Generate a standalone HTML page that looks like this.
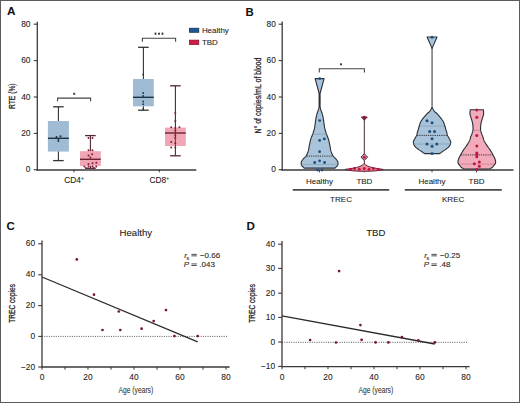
<!DOCTYPE html>
<html><head><meta charset="utf-8"><style>
html,body{margin:0;padding:0;background:#fff;}
body{width:520px;height:403px;overflow:hidden;}
svg{display:block;font-family:"Liberation Sans", sans-serif;}
</style></head><body>
<svg width="520" height="403" viewBox="0 0 520 403">
<rect x="0" y="0" width="520" height="403" fill="#fff"/>
<text x="6.9" y="15.3" font-size="11.8" text-anchor="start" font-weight="bold" fill="#111" >A</text>
<text x="245.6" y="15.6" font-size="11.4" text-anchor="start" font-weight="bold" fill="#111" >B</text>
<text x="6.6" y="230.1" font-size="11.4" text-anchor="start" font-weight="bold" fill="#111" >C</text>
<text x="246.6" y="230.1" font-size="11.6" text-anchor="start" font-weight="bold" fill="#111" >D</text>
<line x1="37.3" y1="21.7" x2="37.3" y2="170.6" stroke="#3a3a3a" stroke-width="1.3" />
<line x1="36.6" y1="169.9" x2="196.3" y2="169.9" stroke="#3a3a3a" stroke-width="1.5" />
<line x1="33.8" y1="24.2" x2="37.3" y2="24.2" stroke="#3a3a3a" stroke-width="1.1" />
<text x="30.5" y="26.8" font-size="8.4" text-anchor="end" font-weight="normal" fill="#222" stroke="#222" stroke-width="0.08" >80</text>
<line x1="33.8" y1="60.6" x2="37.3" y2="60.6" stroke="#3a3a3a" stroke-width="1.1" />
<text x="30.5" y="63.2" font-size="8.4" text-anchor="end" font-weight="normal" fill="#222" stroke="#222" stroke-width="0.08" >60</text>
<line x1="33.8" y1="97.0" x2="37.3" y2="97.0" stroke="#3a3a3a" stroke-width="1.1" />
<text x="30.5" y="99.6" font-size="8.4" text-anchor="end" font-weight="normal" fill="#222" stroke="#222" stroke-width="0.08" >40</text>
<line x1="33.8" y1="133.4" x2="37.3" y2="133.4" stroke="#3a3a3a" stroke-width="1.1" />
<text x="30.5" y="136.0" font-size="8.4" text-anchor="end" font-weight="normal" fill="#222" stroke="#222" stroke-width="0.08" >20</text>
<line x1="33.8" y1="169.7" x2="37.3" y2="169.7" stroke="#3a3a3a" stroke-width="1.1" />
<text x="30.5" y="172.29999999999998" font-size="8.4" text-anchor="end" font-weight="normal" fill="#222" stroke="#222" stroke-width="0.08" >0</text>
<line x1="74" y1="169.7" x2="74" y2="172.3" stroke="#3a3a3a" stroke-width="1.0" />
<line x1="159.3" y1="169.7" x2="159.3" y2="172.3" stroke="#3a3a3a" stroke-width="1.0" />
<text x="74" y="183.2" font-size="8.4" text-anchor="middle" font-weight="normal" fill="#222" stroke="#222" stroke-width="0.08" >CD4<tspan dy="-3" font-size="5">+</tspan></text>
<text x="159.3" y="183.2" font-size="8.4" text-anchor="middle" font-weight="normal" fill="#222" stroke="#222" stroke-width="0.08" >CD8<tspan dy="-3" font-size="5">+</tspan></text>
<text transform="translate(15.4,96.2) rotate(-90)" font-size="8.8" text-anchor="middle" fill="#222" stroke="#222" stroke-width="0.25" textLength="25.6" lengthAdjust="spacingAndGlyphs">RTE (%)</text>
<line x1="58.4" y1="106.8" x2="58.4" y2="160.6" stroke="#333" stroke-width="1.1" />
<line x1="53.1" y1="106.8" x2="63.699999999999996" y2="106.8" stroke="#333" stroke-width="1.3" />
<line x1="53.1" y1="160.6" x2="63.699999999999996" y2="160.6" stroke="#333" stroke-width="1.3" />
<rect x="47.9" y="121" width="21" height="30.599999999999994" fill="#a0bcd4"/>
<line x1="47.9" y1="138.3" x2="68.9" y2="138.3" stroke="#1f3344" stroke-width="1.4" />
<line x1="90.4" y1="135.6" x2="90.4" y2="168.3" stroke="#4a2a33" stroke-width="1.1" />
<line x1="85.10000000000001" y1="135.6" x2="95.7" y2="135.6" stroke="#4a2a33" stroke-width="1.3" />
<line x1="85.10000000000001" y1="168.3" x2="95.7" y2="168.3" stroke="#4a2a33" stroke-width="1.3" />
<rect x="80.0" y="151.2" width="20.8" height="14.800000000000011" fill="#efa6b5"/>
<line x1="80.0" y1="159.3" x2="100.80000000000001" y2="159.3" stroke="#6e2232" stroke-width="1.4" />
<line x1="143.4" y1="47.3" x2="143.4" y2="110.2" stroke="#333" stroke-width="1.1" />
<line x1="138.1" y1="47.3" x2="148.70000000000002" y2="47.3" stroke="#333" stroke-width="1.3" />
<line x1="138.1" y1="110.2" x2="148.70000000000002" y2="110.2" stroke="#333" stroke-width="1.3" />
<rect x="133.0" y="79" width="20.8" height="27.299999999999997" fill="#a0bcd4"/>
<line x1="133.0" y1="97.3" x2="153.8" y2="97.3" stroke="#1f3344" stroke-width="1.4" />
<line x1="175.4" y1="85.8" x2="175.4" y2="155.8" stroke="#4a2a33" stroke-width="1.1" />
<line x1="170.1" y1="85.8" x2="180.70000000000002" y2="85.8" stroke="#4a2a33" stroke-width="1.3" />
<line x1="170.1" y1="155.8" x2="180.70000000000002" y2="155.8" stroke="#4a2a33" stroke-width="1.3" />
<rect x="165.0" y="127.6" width="20.8" height="18.400000000000006" fill="#efa6b5"/>
<line x1="165.0" y1="133" x2="185.8" y2="133" stroke="#6e2232" stroke-width="1.4" />
<line x1="175.4" y1="127.6" x2="175.4" y2="146" stroke="#6e2232" stroke-width="0.9" />
<circle cx="56.5" cy="137.1" r="1.0" fill="#1f3344"/>
<circle cx="60.5" cy="136.3" r="1.0" fill="#1f3344"/>
<circle cx="58.4" cy="141" r="1.0" fill="#1f3344"/>
<circle cx="58.4" cy="139" r="1.0" fill="#1f3344"/>
<circle cx="88.5" cy="138.1" r="1.0" fill="#8a1a35"/>
<circle cx="92.5" cy="138.1" r="1.0" fill="#8a1a35"/>
<circle cx="88.5" cy="150.3" r="1.0" fill="#8a1a35"/>
<circle cx="92.5" cy="150.3" r="1.0" fill="#8a1a35"/>
<circle cx="92.1" cy="154.2" r="1.0" fill="#8a1a35"/>
<circle cx="88.5" cy="155.5" r="1.0" fill="#8a1a35"/>
<circle cx="90.4" cy="157.6" r="1.0" fill="#8a1a35"/>
<circle cx="88.5" cy="163.9" r="1.0" fill="#8a1a35"/>
<circle cx="92.5" cy="163.3" r="1.0" fill="#8a1a35"/>
<circle cx="96.3" cy="162.8" r="1.0" fill="#8a1a35"/>
<circle cx="84.3" cy="166.5" r="1.0" fill="#8a1a35"/>
<circle cx="88.5" cy="166.5" r="1.0" fill="#8a1a35"/>
<circle cx="92.5" cy="166.5" r="1.0" fill="#8a1a35"/>
<circle cx="96.3" cy="166.5" r="1.0" fill="#8a1a35"/>
<circle cx="86" cy="168" r="1.0" fill="#8a1a35"/>
<circle cx="94" cy="168" r="1.0" fill="#8a1a35"/>
<circle cx="143.2" cy="74.5" r="0.9" fill="#1f3344"/>
<circle cx="143.2" cy="93" r="0.9" fill="#1f3344"/>
<circle cx="143.2" cy="96" r="0.9" fill="#1f3344"/>
<circle cx="143.2" cy="101.5" r="0.9" fill="#1f3344"/>
<circle cx="143.2" cy="104.2" r="0.9" fill="#1f3344"/>
<circle cx="143.2" cy="108.9" r="0.9" fill="#1f3344"/>
<circle cx="175.3" cy="128" r="1.0" fill="#8a1a35"/>
<circle cx="171.2" cy="127.3" r="1.0" fill="#8a1a35"/>
<circle cx="179.4" cy="127.3" r="1.0" fill="#8a1a35"/>
<circle cx="175.3" cy="130.5" r="1.0" fill="#8a1a35"/>
<circle cx="175.3" cy="135.4" r="1.0" fill="#8a1a35"/>
<circle cx="175.3" cy="138" r="1.0" fill="#8a1a35"/>
<circle cx="175.3" cy="143.3" r="1.0" fill="#8a1a35"/>
<circle cx="171.2" cy="142" r="1.0" fill="#8a1a35"/>
<circle cx="171.2" cy="147.4" r="1.0" fill="#8a1a35"/>
<circle cx="175.3" cy="147.4" r="1.0" fill="#8a1a35"/>
<circle cx="175.3" cy="121" r="1.0" fill="#8a1a35"/>
<circle cx="175.3" cy="113" r="1.0" fill="#8a1a35"/>
<polyline points="57.6,101.2 57.6,98.1 90.6,98.1 90.6,101.2" fill="none" stroke="#444" stroke-width="1.1"/>
<path d="M74.20,92.65 L74.20,94.95 M75.20,93.22 L73.20,94.38 M75.20,94.38 L73.20,93.22 " stroke="#222" stroke-width="0.75" fill="none"/>
<polyline points="142.4,41.8 142.4,38.2 175.6,38.2 175.6,41.8" fill="none" stroke="#444" stroke-width="1.1"/>
<path d="M155.50,32.55 L155.50,34.85 M156.50,33.12 L154.50,34.28 M156.50,34.28 L154.50,33.12 " stroke="#222" stroke-width="0.75" fill="none"/>
<path d="M159.00,32.55 L159.00,34.85 M160.00,33.12 L158.00,34.28 M160.00,34.28 L158.00,33.12 " stroke="#222" stroke-width="0.75" fill="none"/>
<path d="M162.50,32.55 L162.50,34.85 M163.50,33.12 L161.50,34.28 M163.50,34.28 L161.50,33.12 " stroke="#222" stroke-width="0.75" fill="none"/>
<rect x="189.4" y="28.2" width="9.4" height="4.1" fill="#1f5890" stroke="#0c2a4a" stroke-width="0.7"/>
<rect x="189.4" y="40.1" width="9.4" height="4.5" fill="#d01c42" stroke="#80102a" stroke-width="0.7"/>
<text x="201.9" y="32.7" font-size="7.95" text-anchor="start" font-weight="normal" fill="#222" stroke="#222" stroke-width="0.08" >Healthy</text>
<text x="201.9" y="44.6" font-size="7.95" text-anchor="start" font-weight="normal" fill="#222" stroke="#222" stroke-width="0.08" >TBD</text>
<line x1="282.2" y1="21.4" x2="282.2" y2="170.6" stroke="#3a3a3a" stroke-width="1.3" />
<line x1="281.5" y1="169.9" x2="513.5" y2="169.9" stroke="#3a3a3a" stroke-width="1.5" />
<line x1="278.7" y1="24.2" x2="282.2" y2="24.2" stroke="#3a3a3a" stroke-width="1.1" />
<text x="275.9" y="26.8" font-size="8.4" text-anchor="end" font-weight="normal" fill="#222" stroke="#222" stroke-width="0.08" >80</text>
<line x1="278.7" y1="60.6" x2="282.2" y2="60.6" stroke="#3a3a3a" stroke-width="1.1" />
<text x="275.9" y="63.2" font-size="8.4" text-anchor="end" font-weight="normal" fill="#222" stroke="#222" stroke-width="0.08" >60</text>
<line x1="278.7" y1="97.0" x2="282.2" y2="97.0" stroke="#3a3a3a" stroke-width="1.1" />
<text x="275.9" y="99.6" font-size="8.4" text-anchor="end" font-weight="normal" fill="#222" stroke="#222" stroke-width="0.08" >40</text>
<line x1="278.7" y1="133.4" x2="282.2" y2="133.4" stroke="#3a3a3a" stroke-width="1.1" />
<text x="275.9" y="136.0" font-size="8.4" text-anchor="end" font-weight="normal" fill="#222" stroke="#222" stroke-width="0.08" >20</text>
<line x1="278.7" y1="169.7" x2="282.2" y2="169.7" stroke="#3a3a3a" stroke-width="1.1" />
<text x="275.9" y="172.29999999999998" font-size="8.4" text-anchor="end" font-weight="normal" fill="#222" stroke="#222" stroke-width="0.08" >0</text>
<line x1="319.5" y1="169.8" x2="319.5" y2="172.3" stroke="#3a3a3a" stroke-width="1.0" />
<line x1="364.4" y1="169.8" x2="364.4" y2="172.3" stroke="#3a3a3a" stroke-width="1.0" />
<line x1="432" y1="169.8" x2="432" y2="172.3" stroke="#3a3a3a" stroke-width="1.0" />
<line x1="476.5" y1="169.8" x2="476.5" y2="172.3" stroke="#3a3a3a" stroke-width="1.0" />
<text x="319.5" y="183.5" font-size="8.0" text-anchor="middle" font-weight="normal" fill="#222" stroke="#222" stroke-width="0.08" >Healthy</text>
<text x="364.4" y="183.5" font-size="8.0" text-anchor="middle" font-weight="normal" fill="#222" stroke="#222" stroke-width="0.08" >TBD</text>
<text x="432" y="183.5" font-size="8.0" text-anchor="middle" font-weight="normal" fill="#222" stroke="#222" stroke-width="0.08" >Healthy</text>
<text x="476.5" y="183.5" font-size="8.0" text-anchor="middle" font-weight="normal" fill="#222" stroke="#222" stroke-width="0.08" >TBD</text>
<line x1="292.7" y1="189.9" x2="389.2" y2="189.9" stroke="#4a4a4a" stroke-width="1.6" />
<line x1="404.8" y1="189.9" x2="501.8" y2="189.9" stroke="#4a4a4a" stroke-width="1.6" />
<text x="341" y="201.7" font-size="8.1" text-anchor="middle" font-weight="normal" fill="#222" stroke="#222" stroke-width="0.08" >TREC</text>
<text x="453.2" y="201.7" font-size="8.1" text-anchor="middle" font-weight="normal" fill="#222" stroke="#222" stroke-width="0.08" >KREC</text>
<text transform="translate(260.8,95.6) rotate(-90)" font-size="8.8" text-anchor="middle" fill="#222" stroke="#222" stroke-width="0.25" textLength="76" lengthAdjust="spacingAndGlyphs">N° of copies/mL of blood</text>
<polyline points="319.3,72.6 319.3,68.7 364.4,68.7 364.4,72.6" fill="none" stroke="#444" stroke-width="1.1"/>
<path d="M341.00,63.15 L341.00,65.45 M342.00,63.72 L340.00,64.88 M342.00,64.88 L340.00,63.72 " stroke="#222" stroke-width="0.75" fill="none"/>
<path d="M315.15,78.60 L319.15,93.50 L319.10,103.00 L319.15,103.50 L319.15,104.00 L319.16,104.50 L319.16,105.00 L319.16,105.50 L319.14,106.00 L319.10,106.50 L319.04,107.00 L318.96,107.50 L318.87,108.00 L318.76,108.50 L318.64,109.00 L318.50,109.50 L318.33,110.05 L318.14,110.60 L317.93,111.15 L317.71,111.70 L317.50,112.25 L317.30,112.80 L317.16,113.30 L317.01,113.80 L316.87,114.30 L316.73,114.80 L316.59,115.30 L316.46,115.80 L316.33,116.30 L316.20,116.80 L316.12,117.30 L316.04,117.80 L315.96,118.30 L315.88,118.80 L315.80,119.30 L315.73,119.80 L315.65,120.30 L315.58,120.80 L315.51,121.30 L315.44,121.80 L315.37,122.30 L315.30,122.80 L315.22,123.30 L315.15,123.80 L315.08,124.30 L315.02,124.80 L314.95,125.30 L314.88,125.80 L314.82,126.30 L314.75,126.80 L314.68,127.30 L314.60,127.80 L314.46,128.33 L314.32,128.87 L314.18,129.40 L314.02,129.93 L313.86,130.47 L313.70,131.00 L313.54,131.53 L313.38,132.07 L313.21,132.60 L313.03,133.13 L312.83,133.67 L312.60,134.20 L312.44,134.72 L312.26,135.24 L312.07,135.76 L311.87,136.28 L311.67,136.80 L311.46,137.32 L311.26,137.84 L311.06,138.36 L310.87,138.88 L310.70,139.40 L310.56,139.92 L310.43,140.43 L310.31,140.95 L310.18,141.47 L310.06,141.98 L309.94,142.50 L309.83,143.02 L309.72,143.53 L309.61,144.05 L309.50,144.57 L309.40,145.08 L309.30,145.60 L309.19,146.13 L309.09,146.66 L309.01,147.19 L308.93,147.72 L308.85,148.25 L308.77,148.78 L308.68,149.31 L308.57,149.84 L308.45,150.37 L308.30,150.90 L308.13,151.42 L307.95,151.94 L307.75,152.46 L307.54,152.98 L307.33,153.50 L307.10,154.02 L306.86,154.54 L306.61,155.06 L306.36,155.58 L306.10,156.10 L305.63,156.62 L305.11,157.13 L304.58,157.65 L304.04,158.17 L303.54,158.68 L303.10,159.20 L302.71,159.72 L302.33,160.23 L301.99,160.75 L301.70,161.27 L301.46,161.78 L301.30,162.30 L301.20,162.83 L301.16,163.37 L301.18,163.90 L301.25,164.43 L301.39,164.97 L301.60,165.50 L302.01,166.02 L302.60,166.54 L303.24,167.06 L303.81,167.58 L304.20,168.10 L335.00,168.10 L335.39,167.58 L335.96,167.06 L336.60,166.54 L337.19,166.02 L337.60,165.50 L337.81,164.97 L337.95,164.43 L338.03,163.90 L338.04,163.37 L338.00,162.83 L337.90,162.30 L337.74,161.78 L337.50,161.27 L337.21,160.75 L336.87,160.23 L336.49,159.72 L336.10,159.20 L335.66,158.68 L335.16,158.17 L334.62,157.65 L334.09,157.13 L333.57,156.62 L333.10,156.10 L332.84,155.58 L332.59,155.06 L332.34,154.54 L332.10,154.02 L331.88,153.50 L331.66,152.98 L331.45,152.46 L331.25,151.94 L331.07,151.42 L330.90,150.90 L330.75,150.37 L330.63,149.84 L330.52,149.31 L330.43,148.78 L330.35,148.25 L330.27,147.72 L330.19,147.19 L330.11,146.66 L330.01,146.13 L329.90,145.60 L329.80,145.08 L329.70,144.57 L329.59,144.05 L329.48,143.53 L329.37,143.02 L329.26,142.50 L329.14,141.98 L329.02,141.47 L328.89,140.95 L328.77,140.43 L328.64,139.92 L328.50,139.40 L328.33,138.88 L328.14,138.36 L327.94,137.84 L327.74,137.32 L327.53,136.80 L327.33,136.28 L327.13,135.76 L326.94,135.24 L326.76,134.72 L326.60,134.20 L326.37,133.67 L326.17,133.13 L325.99,132.60 L325.82,132.07 L325.66,131.53 L325.50,131.00 L325.34,130.47 L325.18,129.93 L325.03,129.40 L324.88,128.87 L324.74,128.33 L324.60,127.80 L324.52,127.30 L324.45,126.80 L324.38,126.30 L324.32,125.80 L324.25,125.30 L324.18,124.80 L324.12,124.30 L324.05,123.80 L323.98,123.30 L323.90,122.80 L323.83,122.30 L323.76,121.80 L323.69,121.30 L323.62,120.80 L323.55,120.30 L323.48,119.80 L323.40,119.30 L323.32,118.80 L323.24,118.30 L323.16,117.80 L323.08,117.30 L323.00,116.80 L322.87,116.30 L322.74,115.80 L322.61,115.30 L322.47,114.80 L322.33,114.30 L322.19,113.80 L322.04,113.30 L321.90,112.80 L321.70,112.25 L321.49,111.70 L321.27,111.15 L321.06,110.60 L320.87,110.05 L320.70,109.50 L320.56,109.00 L320.44,108.50 L320.33,108.00 L320.24,107.50 L320.16,107.00 L320.10,106.50 L320.06,106.00 L320.04,105.50 L320.04,105.00 L320.04,104.50 L320.05,104.00 L320.05,103.50 L320.10,103.00 L320.05,93.50 L324.05,78.60 Z" fill="#a9c4da" stroke="none"/>
<line x1="312.6" y1="134.2" x2="326.6" y2="134.2" stroke="#7f9db5" stroke-width="0.7" />
<line x1="301.24704861111115" y1="164.4" x2="337.9529513888889" y2="164.4" stroke="#7f9db5" stroke-width="0.7" />
<line x1="306.6" y1="156.1" x2="332.6" y2="156.1" stroke="#222" stroke-width="0.9" stroke-dasharray="1.2,1"/>
<path d="M315.15,78.60 L319.15,93.50 L319.10,103.00 L319.15,103.50 L319.15,104.00 L319.16,104.50 L319.16,105.00 L319.16,105.50 L319.14,106.00 L319.10,106.50 L319.04,107.00 L318.96,107.50 L318.87,108.00 L318.76,108.50 L318.64,109.00 L318.50,109.50 L318.33,110.05 L318.14,110.60 L317.93,111.15 L317.71,111.70 L317.50,112.25 L317.30,112.80 L317.16,113.30 L317.01,113.80 L316.87,114.30 L316.73,114.80 L316.59,115.30 L316.46,115.80 L316.33,116.30 L316.20,116.80 L316.12,117.30 L316.04,117.80 L315.96,118.30 L315.88,118.80 L315.80,119.30 L315.73,119.80 L315.65,120.30 L315.58,120.80 L315.51,121.30 L315.44,121.80 L315.37,122.30 L315.30,122.80 L315.22,123.30 L315.15,123.80 L315.08,124.30 L315.02,124.80 L314.95,125.30 L314.88,125.80 L314.82,126.30 L314.75,126.80 L314.68,127.30 L314.60,127.80 L314.46,128.33 L314.32,128.87 L314.18,129.40 L314.02,129.93 L313.86,130.47 L313.70,131.00 L313.54,131.53 L313.38,132.07 L313.21,132.60 L313.03,133.13 L312.83,133.67 L312.60,134.20 L312.44,134.72 L312.26,135.24 L312.07,135.76 L311.87,136.28 L311.67,136.80 L311.46,137.32 L311.26,137.84 L311.06,138.36 L310.87,138.88 L310.70,139.40 L310.56,139.92 L310.43,140.43 L310.31,140.95 L310.18,141.47 L310.06,141.98 L309.94,142.50 L309.83,143.02 L309.72,143.53 L309.61,144.05 L309.50,144.57 L309.40,145.08 L309.30,145.60 L309.19,146.13 L309.09,146.66 L309.01,147.19 L308.93,147.72 L308.85,148.25 L308.77,148.78 L308.68,149.31 L308.57,149.84 L308.45,150.37 L308.30,150.90 L308.13,151.42 L307.95,151.94 L307.75,152.46 L307.54,152.98 L307.33,153.50 L307.10,154.02 L306.86,154.54 L306.61,155.06 L306.36,155.58 L306.10,156.10 L305.63,156.62 L305.11,157.13 L304.58,157.65 L304.04,158.17 L303.54,158.68 L303.10,159.20 L302.71,159.72 L302.33,160.23 L301.99,160.75 L301.70,161.27 L301.46,161.78 L301.30,162.30 L301.20,162.83 L301.16,163.37 L301.18,163.90 L301.25,164.43 L301.39,164.97 L301.60,165.50 L302.01,166.02 L302.60,166.54 L303.24,167.06 L303.81,167.58 L304.20,168.10 L335.00,168.10 L335.39,167.58 L335.96,167.06 L336.60,166.54 L337.19,166.02 L337.60,165.50 L337.81,164.97 L337.95,164.43 L338.03,163.90 L338.04,163.37 L338.00,162.83 L337.90,162.30 L337.74,161.78 L337.50,161.27 L337.21,160.75 L336.87,160.23 L336.49,159.72 L336.10,159.20 L335.66,158.68 L335.16,158.17 L334.62,157.65 L334.09,157.13 L333.57,156.62 L333.10,156.10 L332.84,155.58 L332.59,155.06 L332.34,154.54 L332.10,154.02 L331.88,153.50 L331.66,152.98 L331.45,152.46 L331.25,151.94 L331.07,151.42 L330.90,150.90 L330.75,150.37 L330.63,149.84 L330.52,149.31 L330.43,148.78 L330.35,148.25 L330.27,147.72 L330.19,147.19 L330.11,146.66 L330.01,146.13 L329.90,145.60 L329.80,145.08 L329.70,144.57 L329.59,144.05 L329.48,143.53 L329.37,143.02 L329.26,142.50 L329.14,141.98 L329.02,141.47 L328.89,140.95 L328.77,140.43 L328.64,139.92 L328.50,139.40 L328.33,138.88 L328.14,138.36 L327.94,137.84 L327.74,137.32 L327.53,136.80 L327.33,136.28 L327.13,135.76 L326.94,135.24 L326.76,134.72 L326.60,134.20 L326.37,133.67 L326.17,133.13 L325.99,132.60 L325.82,132.07 L325.66,131.53 L325.50,131.00 L325.34,130.47 L325.18,129.93 L325.03,129.40 L324.88,128.87 L324.74,128.33 L324.60,127.80 L324.52,127.30 L324.45,126.80 L324.38,126.30 L324.32,125.80 L324.25,125.30 L324.18,124.80 L324.12,124.30 L324.05,123.80 L323.98,123.30 L323.90,122.80 L323.83,122.30 L323.76,121.80 L323.69,121.30 L323.62,120.80 L323.55,120.30 L323.48,119.80 L323.40,119.30 L323.32,118.80 L323.24,118.30 L323.16,117.80 L323.08,117.30 L323.00,116.80 L322.87,116.30 L322.74,115.80 L322.61,115.30 L322.47,114.80 L322.33,114.30 L322.19,113.80 L322.04,113.30 L321.90,112.80 L321.70,112.25 L321.49,111.70 L321.27,111.15 L321.06,110.60 L320.87,110.05 L320.70,109.50 L320.56,109.00 L320.44,108.50 L320.33,108.00 L320.24,107.50 L320.16,107.00 L320.10,106.50 L320.06,106.00 L320.04,105.50 L320.04,105.00 L320.04,104.50 L320.05,104.00 L320.05,103.50 L320.10,103.00 L320.05,93.50 L324.05,78.60 Z" fill="none" stroke="#2a2f35" stroke-width="1.1" stroke-linejoin="round"/>
<circle cx="319.7" cy="78.6" r="1.4" fill="#1f4f7e"/>
<circle cx="319.7" cy="120.6" r="1.4" fill="#1f4f7e"/>
<circle cx="319.6" cy="140.4" r="1.4" fill="#1f4f7e"/>
<circle cx="324.3" cy="138.9" r="1.4" fill="#1f4f7e"/>
<circle cx="319.6" cy="151.7" r="1.4" fill="#1f4f7e"/>
<circle cx="314.7" cy="162.5" r="1.4" fill="#1f4f7e"/>
<circle cx="319.6" cy="160.8" r="1.4" fill="#1f4f7e"/>
<circle cx="324.6" cy="162.5" r="1.4" fill="#1f4f7e"/>
<circle cx="317.5" cy="170" r="1.4" fill="#1f4f7e"/>
<circle cx="322" cy="170" r="1.4" fill="#1f4f7e"/>
<line x1="364.3" y1="117.2" x2="364.3" y2="164" stroke="#4a2a33" stroke-width="1.0" />
<path d="M361.3,117.0 L367.3,117.0 L364.3,120.2 Z" fill="#9a1a3a" stroke="#5a2030" stroke-width="0.9" stroke-linejoin="round"/>
<path d="M364.3,153.8 L367.7,157.2 L364.3,160.4 L360.9,157.2 Z" fill="#efa6b5" stroke="#2a2f35" stroke-width="1" stroke-linejoin="round"/>
<path d="M345.1,169.4 C353,168.2 361,167.6 364.2,163.4 C367.5,167.6 375.5,168.2 383.2,169.4 C378,171.9 351,171.9 345.1,169.4 Z" fill="#eb8ea2" stroke="#5a2030" stroke-width="1" stroke-linejoin="round"/>
<circle cx="364.3" cy="117.2" r="1.4" fill="#8a1535"/>
<circle cx="364.3" cy="157.2" r="1.5" fill="#c0163f"/>
<circle cx="350.4" cy="169.2" r="1.5" fill="#c0163f"/>
<circle cx="354.4" cy="168.6" r="1.5" fill="#c0163f"/>
<circle cx="359.3" cy="169.2" r="1.5" fill="#c0163f"/>
<circle cx="364.2" cy="168.4" r="1.5" fill="#c0163f"/>
<circle cx="369" cy="169.2" r="1.5" fill="#c0163f"/>
<circle cx="373.4" cy="168.6" r="1.5" fill="#c0163f"/>
<circle cx="378.3" cy="169.2" r="1.5" fill="#c0163f"/>
<line x1="432.06" y1="48" x2="432.06" y2="109" stroke="#2a2f35" stroke-width="1.0" />
<path d="M427.1,37 L437,37 L432.06,48.4 Z" fill="#a9c4da" stroke="#2a2f35" stroke-width="1.1" stroke-linejoin="round"/>
<path d="M431.56,107.80 L431.39,108.37 L431.17,108.93 L430.90,109.50 L430.59,110.07 L430.24,110.63 L429.86,111.20 L429.34,111.72 L428.75,112.24 L428.12,112.76 L427.48,113.28 L426.86,113.80 L426.43,114.30 L426.00,114.80 L425.57,115.30 L425.15,115.80 L424.72,116.30 L424.29,116.80 L423.86,117.30 L423.48,117.84 L423.08,118.38 L422.67,118.91 L422.27,119.45 L421.88,119.99 L421.51,120.52 L421.17,121.06 L420.86,121.60 L420.59,122.15 L420.35,122.70 L420.14,123.25 L419.94,123.80 L419.76,124.35 L419.59,124.90 L419.43,125.45 L419.26,126.00 L419.10,126.50 L418.94,127.00 L418.80,127.50 L418.66,128.00 L418.53,128.50 L418.40,129.00 L418.28,129.50 L418.16,130.00 L417.94,130.57 L417.74,131.15 L417.55,131.73 L417.36,132.30 L417.24,132.82 L417.14,133.33 L417.04,133.85 L416.92,134.37 L416.76,134.88 L416.56,135.40 L416.33,135.94 L416.05,136.49 L415.74,137.03 L415.42,137.57 L415.11,138.11 L414.81,138.66 L414.56,139.20 L414.28,139.72 L414.00,140.23 L413.75,140.75 L413.54,141.27 L413.40,141.78 L413.36,142.30 L413.40,142.86 L413.50,143.41 L413.65,143.97 L413.85,144.53 L414.10,145.09 L414.41,145.64 L414.76,146.20 L415.26,146.77 L415.86,147.33 L416.52,147.90 L417.23,148.47 L417.95,149.03 L418.66,149.60 L419.40,150.12 L420.20,150.63 L421.01,151.15 L421.79,151.67 L422.49,152.18 L423.06,152.70 L424.08,153.15 L424.56,153.60 L439.56,153.60 L440.04,153.15 L441.06,152.70 L441.63,152.18 L442.33,151.67 L443.11,151.15 L443.92,150.63 L444.72,150.12 L445.46,149.60 L446.17,149.03 L446.89,148.47 L447.60,147.90 L448.26,147.33 L448.86,146.77 L449.36,146.20 L449.71,145.64 L450.02,145.09 L450.27,144.53 L450.47,143.97 L450.62,143.41 L450.72,142.86 L450.76,142.30 L450.72,141.78 L450.58,141.27 L450.37,140.75 L450.12,140.23 L449.84,139.72 L449.56,139.20 L449.31,138.66 L449.01,138.11 L448.70,137.57 L448.38,137.03 L448.07,136.49 L447.79,135.94 L447.56,135.40 L447.36,134.88 L447.20,134.37 L447.08,133.85 L446.98,133.33 L446.88,132.82 L446.76,132.30 L446.57,131.73 L446.38,131.15 L446.18,130.57 L445.96,130.00 L445.84,129.50 L445.72,129.00 L445.59,128.50 L445.46,128.00 L445.32,127.50 L445.18,127.00 L445.02,126.50 L444.86,126.00 L444.69,125.45 L444.53,124.90 L444.36,124.35 L444.18,123.80 L443.98,123.25 L443.77,122.70 L443.53,122.15 L443.26,121.60 L442.95,121.06 L442.61,120.52 L442.24,119.99 L441.85,119.45 L441.45,118.91 L441.04,118.38 L440.64,117.84 L440.26,117.30 L439.83,116.80 L439.40,116.30 L438.97,115.80 L438.55,115.30 L438.12,114.80 L437.69,114.30 L437.26,113.80 L436.64,113.28 L436.00,112.76 L435.37,112.24 L434.78,111.72 L434.26,111.20 L433.88,110.63 L433.53,110.07 L433.22,109.50 L432.95,108.93 L432.73,108.37 L432.56,107.80 Z" fill="#a9c4da" stroke="none"/>
<line x1="419.26" y1="126" x2="444.86" y2="126" stroke="#7f9db5" stroke-width="0.7" />
<line x1="413.6572265829409" y1="144" x2="450.4627734170591" y2="144" stroke="#7f9db5" stroke-width="0.7" />
<line x1="417.06" y1="135.4" x2="447.06" y2="135.4" stroke="#222" stroke-width="0.9" stroke-dasharray="1.2,1"/>
<path d="M431.56,107.80 L431.39,108.37 L431.17,108.93 L430.90,109.50 L430.59,110.07 L430.24,110.63 L429.86,111.20 L429.34,111.72 L428.75,112.24 L428.12,112.76 L427.48,113.28 L426.86,113.80 L426.43,114.30 L426.00,114.80 L425.57,115.30 L425.15,115.80 L424.72,116.30 L424.29,116.80 L423.86,117.30 L423.48,117.84 L423.08,118.38 L422.67,118.91 L422.27,119.45 L421.88,119.99 L421.51,120.52 L421.17,121.06 L420.86,121.60 L420.59,122.15 L420.35,122.70 L420.14,123.25 L419.94,123.80 L419.76,124.35 L419.59,124.90 L419.43,125.45 L419.26,126.00 L419.10,126.50 L418.94,127.00 L418.80,127.50 L418.66,128.00 L418.53,128.50 L418.40,129.00 L418.28,129.50 L418.16,130.00 L417.94,130.57 L417.74,131.15 L417.55,131.73 L417.36,132.30 L417.24,132.82 L417.14,133.33 L417.04,133.85 L416.92,134.37 L416.76,134.88 L416.56,135.40 L416.33,135.94 L416.05,136.49 L415.74,137.03 L415.42,137.57 L415.11,138.11 L414.81,138.66 L414.56,139.20 L414.28,139.72 L414.00,140.23 L413.75,140.75 L413.54,141.27 L413.40,141.78 L413.36,142.30 L413.40,142.86 L413.50,143.41 L413.65,143.97 L413.85,144.53 L414.10,145.09 L414.41,145.64 L414.76,146.20 L415.26,146.77 L415.86,147.33 L416.52,147.90 L417.23,148.47 L417.95,149.03 L418.66,149.60 L419.40,150.12 L420.20,150.63 L421.01,151.15 L421.79,151.67 L422.49,152.18 L423.06,152.70 L424.08,153.15 L424.56,153.60 L439.56,153.60 L440.04,153.15 L441.06,152.70 L441.63,152.18 L442.33,151.67 L443.11,151.15 L443.92,150.63 L444.72,150.12 L445.46,149.60 L446.17,149.03 L446.89,148.47 L447.60,147.90 L448.26,147.33 L448.86,146.77 L449.36,146.20 L449.71,145.64 L450.02,145.09 L450.27,144.53 L450.47,143.97 L450.62,143.41 L450.72,142.86 L450.76,142.30 L450.72,141.78 L450.58,141.27 L450.37,140.75 L450.12,140.23 L449.84,139.72 L449.56,139.20 L449.31,138.66 L449.01,138.11 L448.70,137.57 L448.38,137.03 L448.07,136.49 L447.79,135.94 L447.56,135.40 L447.36,134.88 L447.20,134.37 L447.08,133.85 L446.98,133.33 L446.88,132.82 L446.76,132.30 L446.57,131.73 L446.38,131.15 L446.18,130.57 L445.96,130.00 L445.84,129.50 L445.72,129.00 L445.59,128.50 L445.46,128.00 L445.32,127.50 L445.18,127.00 L445.02,126.50 L444.86,126.00 L444.69,125.45 L444.53,124.90 L444.36,124.35 L444.18,123.80 L443.98,123.25 L443.77,122.70 L443.53,122.15 L443.26,121.60 L442.95,121.06 L442.61,120.52 L442.24,119.99 L441.85,119.45 L441.45,118.91 L441.04,118.38 L440.64,117.84 L440.26,117.30 L439.83,116.80 L439.40,116.30 L438.97,115.80 L438.55,115.30 L438.12,114.80 L437.69,114.30 L437.26,113.80 L436.64,113.28 L436.00,112.76 L435.37,112.24 L434.78,111.72 L434.26,111.20 L433.88,110.63 L433.53,110.07 L433.22,109.50 L432.95,108.93 L432.73,108.37 L432.56,107.80 Z" fill="none" stroke="#2a2f35" stroke-width="1.1" stroke-linejoin="round"/>
<circle cx="432.06" cy="37.2" r="1.5" fill="#1f4f7e"/>
<circle cx="427" cy="120.8" r="1.5" fill="#1f4f7e"/>
<circle cx="432.06" cy="122.7" r="1.5" fill="#1f4f7e"/>
<circle cx="429.7" cy="131.6" r="1.5" fill="#1f4f7e"/>
<circle cx="434.5" cy="131.6" r="1.5" fill="#1f4f7e"/>
<circle cx="432.06" cy="138.8" r="1.5" fill="#1f4f7e"/>
<circle cx="427" cy="144" r="1.5" fill="#1f4f7e"/>
<circle cx="436.8" cy="144" r="1.5" fill="#1f4f7e"/>
<circle cx="432.06" cy="146.2" r="1.5" fill="#1f4f7e"/>
<circle cx="432.06" cy="153.5" r="1.5" fill="#1f4f7e"/>
<path d="M470.20,109.80 L470.18,110.30 L470.13,110.80 L470.08,111.30 L470.03,111.80 L469.98,112.30 L469.96,112.80 L469.96,113.30 L470.00,113.80 L470.07,114.30 L470.17,114.80 L470.29,115.30 L470.43,115.80 L470.58,116.30 L470.74,116.80 L470.90,117.30 L471.05,117.80 L471.20,118.30 L471.34,118.80 L471.50,119.30 L471.66,119.80 L471.81,120.30 L471.97,120.80 L472.12,121.30 L472.26,121.80 L472.39,122.30 L472.50,122.80 L472.60,123.35 L472.70,123.90 L472.77,124.45 L472.84,125.00 L472.89,125.55 L472.94,126.10 L472.97,126.65 L473.00,127.20 L473.03,127.73 L473.05,128.27 L473.05,128.80 L473.03,129.33 L472.98,129.87 L472.90,130.40 L472.81,130.90 L472.69,131.40 L472.55,131.90 L472.40,132.40 L472.24,132.90 L472.08,133.40 L471.93,133.90 L471.80,134.40 L471.50,134.93 L471.23,135.47 L470.90,136.00 L470.77,136.52 L470.65,137.04 L470.52,137.57 L470.39,138.09 L470.25,138.61 L470.09,139.13 L469.91,139.66 L469.72,140.18 L469.50,140.70 L469.25,141.22 L468.98,141.74 L468.69,142.27 L468.38,142.79 L468.06,143.31 L467.72,143.83 L467.38,144.36 L467.04,144.88 L466.70,145.40 L466.35,145.92 L465.99,146.44 L465.62,146.97 L465.24,147.49 L464.86,148.01 L464.48,148.53 L464.11,149.06 L463.75,149.58 L463.40,150.10 L463.06,150.63 L462.73,151.17 L462.41,151.70 L462.09,152.23 L461.78,152.77 L461.47,153.30 L461.17,153.83 L460.88,154.37 L460.60,154.90 L460.32,155.42 L460.03,155.94 L459.75,156.47 L459.47,156.99 L459.21,157.51 L458.96,158.03 L458.74,158.56 L458.55,159.08 L458.40,159.60 L458.24,160.13 L458.11,160.66 L458.02,161.19 L457.97,161.71 L457.98,162.24 L458.05,162.77 L458.20,163.30 L458.45,163.84 L458.80,164.39 L459.22,164.93 L459.68,165.47 L460.15,166.01 L460.60,166.56 L461.00,167.10 L461.89,167.73 L462.72,168.37 L463.30,169.00 L490.30,169.00 L490.88,168.37 L491.71,167.73 L492.60,167.10 L493.00,166.56 L493.45,166.01 L493.92,165.47 L494.38,164.93 L494.80,164.39 L495.15,163.84 L495.40,163.30 L495.55,162.77 L495.62,162.24 L495.63,161.71 L495.58,161.19 L495.49,160.66 L495.36,160.13 L495.20,159.60 L495.05,159.08 L494.86,158.56 L494.64,158.03 L494.39,157.51 L494.13,156.99 L493.85,156.47 L493.57,155.94 L493.28,155.42 L493.00,154.90 L492.72,154.37 L492.43,153.83 L492.13,153.30 L491.82,152.77 L491.51,152.23 L491.19,151.70 L490.87,151.17 L490.54,150.63 L490.20,150.10 L489.85,149.58 L489.49,149.06 L489.12,148.53 L488.74,148.01 L488.36,147.49 L487.98,146.97 L487.61,146.44 L487.25,145.92 L486.90,145.40 L486.56,144.88 L486.22,144.36 L485.88,143.83 L485.54,143.31 L485.22,142.79 L484.91,142.27 L484.62,141.74 L484.35,141.22 L484.10,140.70 L483.88,140.18 L483.69,139.66 L483.51,139.13 L483.35,138.61 L483.21,138.09 L483.08,137.57 L482.95,137.04 L482.83,136.52 L482.70,136.00 L482.37,135.47 L482.10,134.93 L481.80,134.40 L481.67,133.90 L481.52,133.40 L481.36,132.90 L481.20,132.40 L481.05,131.90 L480.91,131.40 L480.79,130.90 L480.70,130.40 L480.62,129.87 L480.57,129.33 L480.55,128.80 L480.55,128.27 L480.57,127.73 L480.60,127.20 L480.63,126.65 L480.66,126.10 L480.71,125.55 L480.76,125.00 L480.83,124.45 L480.90,123.90 L481.00,123.35 L481.10,122.80 L481.21,122.30 L481.34,121.80 L481.48,121.30 L481.63,120.80 L481.79,120.30 L481.94,119.80 L482.10,119.30 L482.26,118.80 L482.40,118.30 L482.55,117.80 L482.70,117.30 L482.86,116.80 L483.02,116.30 L483.17,115.80 L483.31,115.30 L483.43,114.80 L483.53,114.30 L483.60,113.80 L483.64,113.30 L483.64,112.80 L483.62,112.30 L483.57,111.80 L483.52,111.30 L483.47,110.80 L483.43,110.30 L483.40,109.80 Z" fill="#f1abba" stroke="none"/>
<line x1="472.90000000000003" y1="130.4" x2="480.7" y2="130.4" stroke="#c77a8a" stroke-width="0.7" />
<line x1="458.61224489795916" y1="164.1" x2="494.98775510204086" y2="164.1" stroke="#c77a8a" stroke-width="0.7" />
<line x1="461.1" y1="154.9" x2="492.5" y2="154.9" stroke="#222" stroke-width="0.9" stroke-dasharray="1.2,1"/>
<path d="M470.20,109.80 L470.18,110.30 L470.13,110.80 L470.08,111.30 L470.03,111.80 L469.98,112.30 L469.96,112.80 L469.96,113.30 L470.00,113.80 L470.07,114.30 L470.17,114.80 L470.29,115.30 L470.43,115.80 L470.58,116.30 L470.74,116.80 L470.90,117.30 L471.05,117.80 L471.20,118.30 L471.34,118.80 L471.50,119.30 L471.66,119.80 L471.81,120.30 L471.97,120.80 L472.12,121.30 L472.26,121.80 L472.39,122.30 L472.50,122.80 L472.60,123.35 L472.70,123.90 L472.77,124.45 L472.84,125.00 L472.89,125.55 L472.94,126.10 L472.97,126.65 L473.00,127.20 L473.03,127.73 L473.05,128.27 L473.05,128.80 L473.03,129.33 L472.98,129.87 L472.90,130.40 L472.81,130.90 L472.69,131.40 L472.55,131.90 L472.40,132.40 L472.24,132.90 L472.08,133.40 L471.93,133.90 L471.80,134.40 L471.50,134.93 L471.23,135.47 L470.90,136.00 L470.77,136.52 L470.65,137.04 L470.52,137.57 L470.39,138.09 L470.25,138.61 L470.09,139.13 L469.91,139.66 L469.72,140.18 L469.50,140.70 L469.25,141.22 L468.98,141.74 L468.69,142.27 L468.38,142.79 L468.06,143.31 L467.72,143.83 L467.38,144.36 L467.04,144.88 L466.70,145.40 L466.35,145.92 L465.99,146.44 L465.62,146.97 L465.24,147.49 L464.86,148.01 L464.48,148.53 L464.11,149.06 L463.75,149.58 L463.40,150.10 L463.06,150.63 L462.73,151.17 L462.41,151.70 L462.09,152.23 L461.78,152.77 L461.47,153.30 L461.17,153.83 L460.88,154.37 L460.60,154.90 L460.32,155.42 L460.03,155.94 L459.75,156.47 L459.47,156.99 L459.21,157.51 L458.96,158.03 L458.74,158.56 L458.55,159.08 L458.40,159.60 L458.24,160.13 L458.11,160.66 L458.02,161.19 L457.97,161.71 L457.98,162.24 L458.05,162.77 L458.20,163.30 L458.45,163.84 L458.80,164.39 L459.22,164.93 L459.68,165.47 L460.15,166.01 L460.60,166.56 L461.00,167.10 L461.89,167.73 L462.72,168.37 L463.30,169.00 L490.30,169.00 L490.88,168.37 L491.71,167.73 L492.60,167.10 L493.00,166.56 L493.45,166.01 L493.92,165.47 L494.38,164.93 L494.80,164.39 L495.15,163.84 L495.40,163.30 L495.55,162.77 L495.62,162.24 L495.63,161.71 L495.58,161.19 L495.49,160.66 L495.36,160.13 L495.20,159.60 L495.05,159.08 L494.86,158.56 L494.64,158.03 L494.39,157.51 L494.13,156.99 L493.85,156.47 L493.57,155.94 L493.28,155.42 L493.00,154.90 L492.72,154.37 L492.43,153.83 L492.13,153.30 L491.82,152.77 L491.51,152.23 L491.19,151.70 L490.87,151.17 L490.54,150.63 L490.20,150.10 L489.85,149.58 L489.49,149.06 L489.12,148.53 L488.74,148.01 L488.36,147.49 L487.98,146.97 L487.61,146.44 L487.25,145.92 L486.90,145.40 L486.56,144.88 L486.22,144.36 L485.88,143.83 L485.54,143.31 L485.22,142.79 L484.91,142.27 L484.62,141.74 L484.35,141.22 L484.10,140.70 L483.88,140.18 L483.69,139.66 L483.51,139.13 L483.35,138.61 L483.21,138.09 L483.08,137.57 L482.95,137.04 L482.83,136.52 L482.70,136.00 L482.37,135.47 L482.10,134.93 L481.80,134.40 L481.67,133.90 L481.52,133.40 L481.36,132.90 L481.20,132.40 L481.05,131.90 L480.91,131.40 L480.79,130.90 L480.70,130.40 L480.62,129.87 L480.57,129.33 L480.55,128.80 L480.55,128.27 L480.57,127.73 L480.60,127.20 L480.63,126.65 L480.66,126.10 L480.71,125.55 L480.76,125.00 L480.83,124.45 L480.90,123.90 L481.00,123.35 L481.10,122.80 L481.21,122.30 L481.34,121.80 L481.48,121.30 L481.63,120.80 L481.79,120.30 L481.94,119.80 L482.10,119.30 L482.26,118.80 L482.40,118.30 L482.55,117.80 L482.70,117.30 L482.86,116.80 L483.02,116.30 L483.17,115.80 L483.31,115.30 L483.43,114.80 L483.53,114.30 L483.60,113.80 L483.64,113.30 L483.64,112.80 L483.62,112.30 L483.57,111.80 L483.52,111.30 L483.47,110.80 L483.43,110.30 L483.40,109.80 Z" fill="none" stroke="#2a2f35" stroke-width="1.1" stroke-linejoin="round"/>
<circle cx="476.8" cy="110.1" r="1.5" fill="#c0163f"/>
<circle cx="476.8" cy="117.2" r="1.5" fill="#c0163f"/>
<circle cx="476.8" cy="135.5" r="1.5" fill="#c0163f"/>
<circle cx="476.8" cy="145.9" r="1.5" fill="#c0163f"/>
<circle cx="476.8" cy="153" r="1.5" fill="#c0163f"/>
<circle cx="476.8" cy="154.4" r="1.5" fill="#c0163f"/>
<circle cx="476.8" cy="156.7" r="1.5" fill="#c0163f"/>
<circle cx="479.3" cy="161.9" r="1.5" fill="#c0163f"/>
<circle cx="474.3" cy="163.8" r="1.5" fill="#c0163f"/>
<circle cx="479.3" cy="166.2" r="1.5" fill="#c0163f"/>
<circle cx="476.8" cy="169.5" r="1.5" fill="#c0163f"/>
<line x1="42" y1="240.60000000000002" x2="42" y2="367.6" stroke="#3a3a3a" stroke-width="1.3" />
<line x1="41.4" y1="367" x2="229.6" y2="367" stroke="#3a3a3a" stroke-width="1.4" />
<line x1="38.2" y1="243.8" x2="42" y2="243.8" stroke="#3a3a3a" stroke-width="1.1" />
<text x="35.2" y="246.4" font-size="8.4" text-anchor="end" font-weight="normal" fill="#222" stroke="#222" stroke-width="0.08" >60</text>
<line x1="38.2" y1="274.8" x2="42" y2="274.8" stroke="#3a3a3a" stroke-width="1.1" />
<text x="35.2" y="277.40000000000003" font-size="8.4" text-anchor="end" font-weight="normal" fill="#222" stroke="#222" stroke-width="0.08" >40</text>
<line x1="38.2" y1="305.6" x2="42" y2="305.6" stroke="#3a3a3a" stroke-width="1.1" />
<text x="35.2" y="308.20000000000005" font-size="8.4" text-anchor="end" font-weight="normal" fill="#222" stroke="#222" stroke-width="0.08" >20</text>
<line x1="38.2" y1="336.4" x2="42" y2="336.4" stroke="#3a3a3a" stroke-width="1.1" />
<text x="35.2" y="339.0" font-size="8.4" text-anchor="end" font-weight="normal" fill="#222" stroke="#222" stroke-width="0.08" >0</text>
<line x1="38.2" y1="367" x2="42" y2="367" stroke="#3a3a3a" stroke-width="1.1" />
<text x="35.2" y="369.6" font-size="8.4" text-anchor="end" font-weight="normal" fill="#222" stroke="#222" stroke-width="0.08" >−20</text>
<line x1="42" y1="367" x2="42" y2="369.7" stroke="#3a3a3a" stroke-width="1.0" />
<text x="42" y="380.3" font-size="8.4" text-anchor="middle" font-weight="normal" fill="#222" stroke="#222" stroke-width="0.08" >0</text>
<line x1="65" y1="367" x2="65" y2="369.7" stroke="#3a3a3a" stroke-width="1.0" />
<line x1="88" y1="367" x2="88" y2="369.7" stroke="#3a3a3a" stroke-width="1.0" />
<text x="88" y="380.3" font-size="8.4" text-anchor="middle" font-weight="normal" fill="#222" stroke="#222" stroke-width="0.08" >20</text>
<line x1="111" y1="367" x2="111" y2="369.7" stroke="#3a3a3a" stroke-width="1.0" />
<line x1="134" y1="367" x2="134" y2="369.7" stroke="#3a3a3a" stroke-width="1.0" />
<text x="134" y="380.3" font-size="8.4" text-anchor="middle" font-weight="normal" fill="#222" stroke="#222" stroke-width="0.08" >40</text>
<line x1="157" y1="367" x2="157" y2="369.7" stroke="#3a3a3a" stroke-width="1.0" />
<line x1="180" y1="367" x2="180" y2="369.7" stroke="#3a3a3a" stroke-width="1.0" />
<text x="180" y="380.3" font-size="8.4" text-anchor="middle" font-weight="normal" fill="#222" stroke="#222" stroke-width="0.08" >60</text>
<line x1="203" y1="367" x2="203" y2="369.7" stroke="#3a3a3a" stroke-width="1.0" />
<line x1="226" y1="367" x2="226" y2="369.7" stroke="#3a3a3a" stroke-width="1.0" />
<text x="226" y="380.3" font-size="8.4" text-anchor="middle" font-weight="normal" fill="#222" stroke="#222" stroke-width="0.08" >80</text>
<text x="135.8" y="235.8" font-size="9.6" text-anchor="middle" font-weight="normal" fill="#1a1a1a" stroke="#1a1a1a" stroke-width="0.08" >Healthy</text>
<line x1="42" y1="336.4" x2="228" y2="336.4" stroke="#444" stroke-width="0.9" stroke-dasharray="1,1.3"/>
<line x1="42" y1="277" x2="197.7" y2="341.8" stroke="#2b2b2b" stroke-width="1.3" />
<circle cx="76.8" cy="259.4" r="1.35" fill="#7a1232"/>
<circle cx="94" cy="294.7" r="1.35" fill="#7a1232"/>
<circle cx="102.5" cy="330" r="1.35" fill="#7a1232"/>
<circle cx="118.8" cy="311.5" r="1.35" fill="#7a1232"/>
<circle cx="120.3" cy="330" r="1.35" fill="#7a1232"/>
<circle cx="141.6" cy="328.7" r="1.35" fill="#7a1232"/>
<circle cx="153.7" cy="321.1" r="1.35" fill="#7a1232"/>
<circle cx="166" cy="310.1" r="1.35" fill="#7a1232"/>
<circle cx="174.4" cy="336.1" r="1.35" fill="#7a1232"/>
<circle cx="197.7" cy="336.1" r="1.35" fill="#7a1232"/>
<text transform="translate(14.8,303.3) rotate(-90)" font-size="8.8" text-anchor="middle" fill="#222" stroke="#222" stroke-width="0.25" textLength="38.7" lengthAdjust="spacingAndGlyphs">TREC copies</text>
<text x="118.6" y="393" font-size="8.6" fill="#222" textLength="34.6" lengthAdjust="spacingAndGlyphs">Age (years)</text>
<text x="184.2" y="257.6" font-size="8" text-anchor="start" font-weight="normal" fill="#222" stroke="#222" stroke-width="0.08" font-style="italic">r</text>
<text x="186.5" y="259.6" font-size="5.4" text-anchor="start" font-weight="normal" fill="#222" stroke="#222" stroke-width="0.08" >s</text>
<rect x="191.4" y="253.9" width="5.4" height="0.85" fill="#333"/>
<rect x="191.4" y="255.45000000000002" width="5.4" height="0.85" fill="#333"/>
<rect x="191.4" y="263.5" width="5.4" height="0.85" fill="#333"/>
<rect x="191.4" y="265.05" width="5.4" height="0.85" fill="#333"/>
<text x="199.9" y="257.6" font-size="8" text-anchor="start" font-weight="normal" fill="#222" stroke="#222" stroke-width="0.08" >−0.66</text>
<text x="183.7" y="267" font-size="8" text-anchor="start" font-weight="normal" fill="#222" stroke="#222" stroke-width="0.08" font-style="italic">P</text>
<text x="199.3" y="267" font-size="8" text-anchor="start" font-weight="normal" fill="#222" stroke="#222" stroke-width="0.08" >.043</text>
<line x1="282" y1="241.0" x2="282" y2="367.20000000000005" stroke="#3a3a3a" stroke-width="1.3" />
<line x1="281.4" y1="366.6" x2="469.6" y2="366.6" stroke="#3a3a3a" stroke-width="1.4" />
<line x1="278.2" y1="244.2" x2="282" y2="244.2" stroke="#3a3a3a" stroke-width="1.1" />
<text x="275.2" y="246.79999999999998" font-size="8.4" text-anchor="end" font-weight="normal" fill="#222" stroke="#222" stroke-width="0.08" >40</text>
<line x1="278.2" y1="268.4" x2="282" y2="268.4" stroke="#3a3a3a" stroke-width="1.1" />
<text x="275.2" y="271.0" font-size="8.4" text-anchor="end" font-weight="normal" fill="#222" stroke="#222" stroke-width="0.08" >30</text>
<line x1="278.2" y1="293.2" x2="282" y2="293.2" stroke="#3a3a3a" stroke-width="1.1" />
<text x="275.2" y="295.8" font-size="8.4" text-anchor="end" font-weight="normal" fill="#222" stroke="#222" stroke-width="0.08" >20</text>
<line x1="278.2" y1="317.4" x2="282" y2="317.4" stroke="#3a3a3a" stroke-width="1.1" />
<text x="275.2" y="320.0" font-size="8.4" text-anchor="end" font-weight="normal" fill="#222" stroke="#222" stroke-width="0.08" >10</text>
<line x1="278.2" y1="342" x2="282" y2="342" stroke="#3a3a3a" stroke-width="1.1" />
<text x="275.2" y="344.6" font-size="8.4" text-anchor="end" font-weight="normal" fill="#222" stroke="#222" stroke-width="0.08" >0</text>
<line x1="278.2" y1="366.4" x2="282" y2="366.4" stroke="#3a3a3a" stroke-width="1.1" />
<text x="275.2" y="369.0" font-size="8.4" text-anchor="end" font-weight="normal" fill="#222" stroke="#222" stroke-width="0.08" >−10</text>
<line x1="282" y1="366.6" x2="282" y2="369.3" stroke="#3a3a3a" stroke-width="1.0" />
<text x="282" y="379.90000000000003" font-size="8.4" text-anchor="middle" font-weight="normal" fill="#222" stroke="#222" stroke-width="0.08" >0</text>
<line x1="305" y1="366.6" x2="305" y2="369.3" stroke="#3a3a3a" stroke-width="1.0" />
<line x1="328" y1="366.6" x2="328" y2="369.3" stroke="#3a3a3a" stroke-width="1.0" />
<text x="328" y="379.90000000000003" font-size="8.4" text-anchor="middle" font-weight="normal" fill="#222" stroke="#222" stroke-width="0.08" >20</text>
<line x1="351" y1="366.6" x2="351" y2="369.3" stroke="#3a3a3a" stroke-width="1.0" />
<line x1="374" y1="366.6" x2="374" y2="369.3" stroke="#3a3a3a" stroke-width="1.0" />
<text x="374" y="379.90000000000003" font-size="8.4" text-anchor="middle" font-weight="normal" fill="#222" stroke="#222" stroke-width="0.08" >40</text>
<line x1="397" y1="366.6" x2="397" y2="369.3" stroke="#3a3a3a" stroke-width="1.0" />
<line x1="420" y1="366.6" x2="420" y2="369.3" stroke="#3a3a3a" stroke-width="1.0" />
<text x="420" y="379.90000000000003" font-size="8.4" text-anchor="middle" font-weight="normal" fill="#222" stroke="#222" stroke-width="0.08" >60</text>
<line x1="443" y1="366.6" x2="443" y2="369.3" stroke="#3a3a3a" stroke-width="1.0" />
<line x1="466" y1="366.6" x2="466" y2="369.3" stroke="#3a3a3a" stroke-width="1.0" />
<text x="466" y="379.90000000000003" font-size="8.4" text-anchor="middle" font-weight="normal" fill="#222" stroke="#222" stroke-width="0.08" >80</text>
<text x="375.8" y="235.8" font-size="9.6" text-anchor="middle" font-weight="normal" fill="#1a1a1a" stroke="#1a1a1a" stroke-width="0.08" >TBD</text>
<line x1="282" y1="342.3" x2="468" y2="342.3" stroke="#444" stroke-width="0.9" stroke-dasharray="1,1.3"/>
<line x1="282" y1="315.8" x2="434.8" y2="344" stroke="#2b2b2b" stroke-width="1.3" />
<circle cx="339.1" cy="271.1" r="1.35" fill="#7a1232"/>
<circle cx="310.1" cy="340" r="1.35" fill="#7a1232"/>
<circle cx="336" cy="342.5" r="1.35" fill="#7a1232"/>
<circle cx="360.4" cy="325.1" r="1.35" fill="#7a1232"/>
<circle cx="361.6" cy="339.8" r="1.35" fill="#7a1232"/>
<circle cx="375.6" cy="342.4" r="1.35" fill="#7a1232"/>
<circle cx="388.4" cy="342.4" r="1.35" fill="#7a1232"/>
<circle cx="401.9" cy="337.2" r="1.35" fill="#7a1232"/>
<circle cx="418.3" cy="340.3" r="1.35" fill="#7a1232"/>
<circle cx="434.8" cy="342.4" r="1.35" fill="#7a1232"/>
<text transform="translate(254.8,303.3) rotate(-90)" font-size="8.8" text-anchor="middle" fill="#222" stroke="#222" stroke-width="0.25" textLength="38.7" lengthAdjust="spacingAndGlyphs">TREC copies</text>
<text x="358.6" y="393" font-size="8.6" fill="#222" textLength="34.6" lengthAdjust="spacingAndGlyphs">Age (years)</text>
<text x="424.2" y="257.6" font-size="8" text-anchor="start" font-weight="normal" fill="#222" stroke="#222" stroke-width="0.08" font-style="italic">r</text>
<text x="426.5" y="259.6" font-size="5.4" text-anchor="start" font-weight="normal" fill="#222" stroke="#222" stroke-width="0.08" >s</text>
<rect x="431.4" y="253.9" width="5.4" height="0.85" fill="#333"/>
<rect x="431.4" y="255.45000000000002" width="5.4" height="0.85" fill="#333"/>
<rect x="431.4" y="263.5" width="5.4" height="0.85" fill="#333"/>
<rect x="431.4" y="265.05" width="5.4" height="0.85" fill="#333"/>
<text x="439.9" y="257.6" font-size="8" text-anchor="start" font-weight="normal" fill="#222" stroke="#222" stroke-width="0.08" >−0.25</text>
<text x="423.7" y="267" font-size="8" text-anchor="start" font-weight="normal" fill="#222" stroke="#222" stroke-width="0.08" font-style="italic">P</text>
<text x="439.3" y="267" font-size="8" text-anchor="start" font-weight="normal" fill="#222" stroke="#222" stroke-width="0.08" >.48</text>
<rect x="0.5" y="0.5" width="519" height="402" fill="none" stroke="#5c5c5c" stroke-width="1"/>
</svg>
</body></html>
